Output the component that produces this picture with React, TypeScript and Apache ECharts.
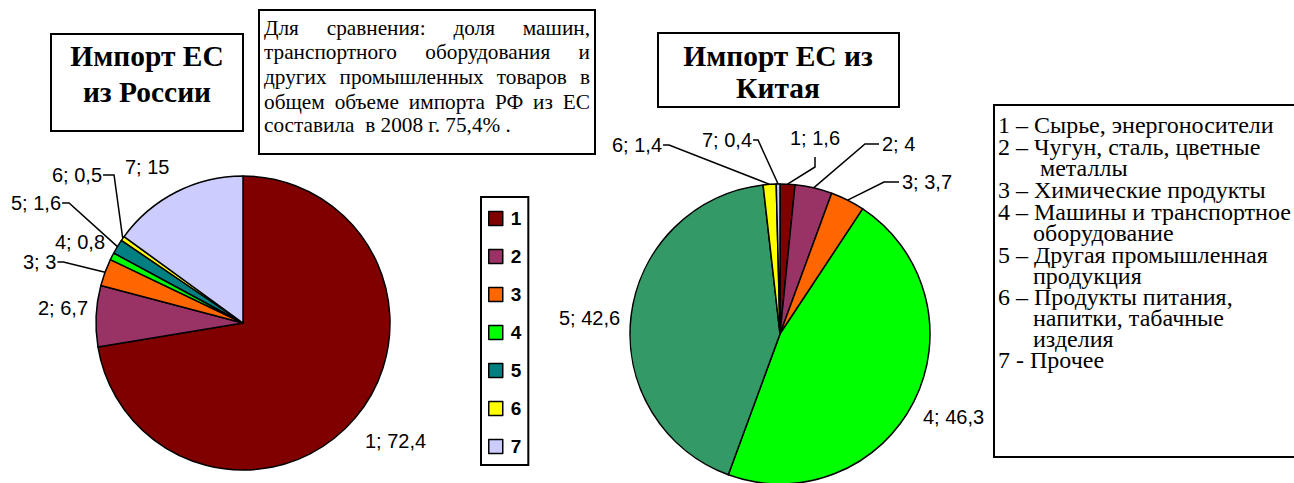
import React, { useEffect, useRef } from 'react';
import * as echarts from 'echarts';

// ---------- data ----------
const categories = ['1', '2', '3', '4', '5', '6', '7'];
const russiaValues = [72.4, 6.7, 3, 0.8, 1.6, 0.5, 15];
const chinaValues = [1.6, 4, 3.7, 46.3, 42.6, 1.4, 0.4];
const russiaColors = ['#800000', '#993366', '#FF6600', '#00FF00', '#008080', '#FFFF00', '#CCCCFF'];
const chinaColors = ['#800000', '#993366', '#FF6600', '#00FF00', '#339966', '#FFFF00', '#CCCCFF'];
const russiaTitle = ['Импорт ЕС', 'из России'];
const chinaTitle = ['Импорт ЕС из', 'Китая'];
const noteLines = [
  'Для сравнения: доля машин,',
  'транспортного оборудования и',
  'других промышленных товаров в',
  'общем объеме импорта РФ из ЕС',
  'составила  в 2008 г. 75,4% .',
];
const legendLines = [
  '1 – Сырье, энергоносители',
  '2 – Чугун, сталь, цветные',
  'металлы',
  '3 – Химические продукты',
  '4 – Машины и транспортное',
  'оборудование',
  '5 – Другая промышленная',
  'продукция',
  '6 – Продукты питания,',
  'напитки, табачные',
  'изделия',
  '7 - Прочее',
];

// ---------- layout (positions only) ----------
type Place = { x: number; y: number; line: 'none' | 'right' | 'left' | 'below'; elbow?: number };
const russiaLabelPlaces: Place[] = [
  { x: 365, y: 441, line: 'none' },
  { x: 38, y: 308, line: 'none' },
  { x: 23, y: 262, line: 'right', elbow: 6 },
  { x: 55, y: 242, line: 'none' },
  { x: 11, y: 203, line: 'right', elbow: 7 },
  { x: 52, y: 175, line: 'right', elbow: 11 },
  { x: 125, y: 167, line: 'none' },
];
const chinaLabelPlaces: Place[] = [
  { x: 790, y: 138, line: 'below' },
  { x: 882, y: 144, line: 'left', elbow: 14 },
  { x: 902, y: 182, line: 'left', elbow: 15 },
  { x: 923, y: 417, line: 'none' },
  { x: 559, y: 318, line: 'none' },
  { x: 612, y: 145, line: 'right', elbow: 6 },
  { x: 702, y: 140, line: 'right', elbow: 5 },
];
const legendIndent = [0, 0, 42, 0, 0, 35, 0, 35, 0, 35, 35, 0];
const legendLineY = [125, 147, 168, 190, 212, 233, 255, 276, 297, 318, 339, 360];
const noteLineY = [28, 52, 77, 102, 125];

const SERIF = 'Liberation Serif';
const SANS = 'Liberation Sans';

const fmt = (v: number) => String(v).replace('.', ',');

let measureCtx: CanvasRenderingContext2D | null = null;
function measure(text: string, size: number, weight = 'normal'): number {
  if (!measureCtx) measureCtx = document.createElement('canvas').getContext('2d');
  if (!measureCtx) return text.length * size * 0.5;
  measureCtx.font = `${weight} ${size}px "${SERIF}"`;
  return measureCtx.measureText(text).width;
}
// font size that makes `text` span `target` pixels
function fitSize(text: string, target: number, weight = 'normal'): number {
  const w = measure(text, 20, weight);
  return w > 0 ? (20 * target) / w : 20;
}

function makeLabelLayout(places: Place[]) {
  return (params: any) => {
    const p = places[params.dataIndex];
    const w = params.labelRect ? params.labelRect.width : 50;
    const res: any = { x: p.x, y: p.y, align: 'left', verticalAlign: 'middle' };
    const pts = params.labelLinePoints;
    if (p.line !== 'none' && pts && pts.length) {
      const start = pts[0];
      const e = p.elbow || 6;
      if (p.line === 'right') {
        const a = p.x + w + 1;
        res.labelLinePoints = [start, [a + e, p.y], [a, p.y]];
      } else if (p.line === 'left') {
        const a = p.x - 3;
        res.labelLinePoints = [start, [a - e, p.y], [a, p.y]];
      } else {
        const cx = p.x + w / 2;
        res.labelLinePoints = [start, [cx, p.y + 29], [cx, p.y + 19]];
      }
    }
    return res;
  };
}

function buildData(values: number[], colors: string[], places: Place[]) {
  return values.map((v, i) => ({
    name: categories[i],
    value: v,
    itemStyle: { color: colors[i] },
    labelLine: { show: places[i].line !== 'none' },
  }));
}

function textEl(text: string, x: number, y: number, size: number, weight = 'normal', align = 'left', lineHeight?: number) {
  return {
    type: 'text',
    style: {
      text,
      x,
      y,
      fontFamily: SERIF,
      fontSize: size,
      fontWeight: weight,
      lineHeight: lineHeight || Math.round(size * 1.1),
      fill: '#000',
      align,
      verticalAlign: 'middle',
    },
  };
}

function justifiedLine(line: string, left: number, right: number, y: number, size: number, lh: number) {
  const words = line.split(' ').filter((w) => w.length);
  const widths = words.map((w) => measure(w, size));
  const total = widths.reduce((a, b) => a + b, 0);
  const gap = words.length > 1 ? (right - left - total) / (words.length - 1) : 0;
  const els: any[] = [];
  let x = left;
  words.forEach((w, i) => {
    els.push(textEl(w, x, y, size, 'normal', 'left', lh));
    x += widths[i] + gap;
  });
  return els;
}

export default function App() {
  const ref = useRef<HTMLDivElement>(null);

  useEffect(() => {
    document.body.style.margin = '0';
    if (!ref.current) return;
    const chart = echarts.init(ref.current, undefined, { renderer: 'svg' });

    const titleSize = (fitSize(russiaTitle[0], 153, 'bold') + fitSize(chinaTitle[0], 190, 'bold')) / 2;
    const noteSize = fitSize(noteLines[4], 247);
    const legendSize = (fitSize(legendLines[0], 275) + fitSize(legendLines[4], 294)) / 2;

    const graphics: any[] = [];
    graphics.push({ type: 'rect', shape: { x: 51, y: 34, width: 192, height: 97 }, style: { fill: '#fff', stroke: '#000', lineWidth: 2 } });
    graphics.push(textEl(russiaTitle[0], 147, 56, titleSize, 'bold', 'center', 32));
    graphics.push(textEl(russiaTitle[1], 147, 92, titleSize, 'bold', 'center', 32));
    graphics.push({ type: 'rect', shape: { x: 658, y: 33, width: 241, height: 74 }, style: { fill: '#fff', stroke: '#000', lineWidth: 2 } });
    graphics.push(textEl(chinaTitle[0], 778, 56, titleSize, 'bold', 'center', 30));
    graphics.push(textEl(chinaTitle[1], 778, 88, titleSize, 'bold', 'center', 30));
    graphics.push({ type: 'rect', shape: { x: 259, y: 10, width: 336, height: 144 }, style: { fill: '#fff', stroke: '#000', lineWidth: 2 } });
    noteLines.forEach((line, i) => {
      if (i < noteLines.length - 1) {
        graphics.push(...justifiedLine(line, 264, 590, noteLineY[i], noteSize, 23));
      } else {
        graphics.push(textEl(line, 264, noteLineY[i], noteSize, 'normal', 'left', 23));
      }
    });
    graphics.push({ type: 'rect', shape: { x: 994, y: 105, width: 320, height: 352 }, style: { fill: '#fff', stroke: '#000', lineWidth: 2 } });
    legendLines.forEach((line, i) => {
      graphics.push(textEl(line, 998 + legendIndent[i], legendLineY[i], legendSize, 'normal', 'left', 20));
    });

    const labelCommon = {
      show: true,
      position: 'outside',
      color: '#000',
      fontFamily: SANS,
      fontSize: 20,
      formatter: (p: any) => `${p.name}; ${fmt(p.value)}`,
    };

    chart.setOption({
      animation: false,
      backgroundColor: '#fff',
      graphic: graphics,
      legend: {
        data: categories,
        orient: 'vertical',
        left: 481,
        top: 197,
        height: 280,
        padding: [12, 7, 9, 7],
        itemGap: 19,
        itemWidth: 14,
        itemHeight: 14,
        icon: 'rect',
        borderColor: '#000',
        borderWidth: 2,
        backgroundColor: '#fff',
        selectedMode: false,
        itemStyle: { borderColor: '#000', borderWidth: 1.5 },
        textStyle: { fontFamily: SANS, fontWeight: 'bold', fontSize: 19, color: '#000', lineHeight: 19, padding: [0, 0, 0, 3] },
      },
      series: [
        {
          type: 'pie',
          name: 'Россия',
          center: [243, 323],
          radius: 147,
          startAngle: 90,
          clockwise: true,
          avoidLabelOverlap: false,
          itemStyle: { borderColor: '#000', borderWidth: 1.5 },
          label: labelCommon,
          labelLine: { show: true, lineStyle: { color: '#000', width: 1.5 } },
          labelLayout: makeLabelLayout(russiaLabelPlaces),
          emphasis: { disabled: true },
          data: buildData(russiaValues, russiaColors, russiaLabelPlaces),
        },
        {
          type: 'pie',
          name: 'Китай',
          center: [780, 334],
          radius: 150,
          startAngle: 90,
          clockwise: true,
          avoidLabelOverlap: false,
          itemStyle: { borderColor: '#000', borderWidth: 1.5 },
          label: labelCommon,
          labelLine: { show: true, lineStyle: { color: '#000', width: 1.5 } },
          labelLayout: makeLabelLayout(chinaLabelPlaces),
          emphasis: { disabled: true },
          data: buildData(chinaValues, chinaColors, chinaLabelPlaces),
        },
      ],
    });

    return () => {
      chart.dispose();
    };
  }, []);

  return <div ref={ref} style={{ width: 1294, height: 483 }} />;
}
